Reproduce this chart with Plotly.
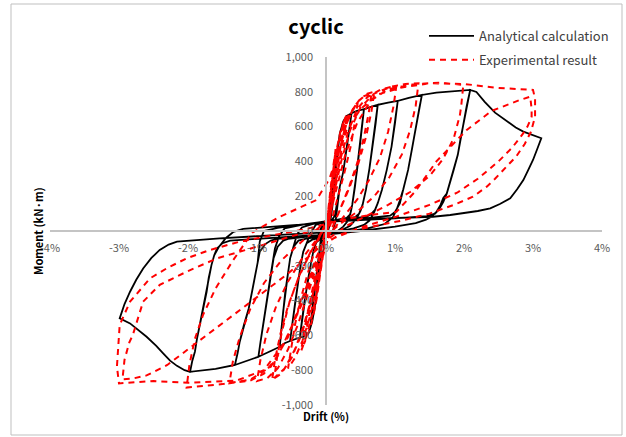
import plotly.graph_objects as go

# ---------------------------------------------------------------
# Hysteresis data: (drift %, moment kN·m) points, one list per cycle
# ---------------------------------------------------------------

# Analytical calculation
ana_cycle_1 = [(0, 0), (0.05, 120), (0.1, 280), (0.15, 430), (0.2, 560),
               (0.16, 420), (0.12, 260), (0.09, 130), (0.06, 70), (0.02, 55),
               (-0.04, 20), (-0.07, -100), (-0.1, -250), (-0.15, -410), (-0.2, -520), (-0.23, -560),
               (-0.19, -420), (-0.15, -280), (-0.11, -160), (-0.08, -80), (-0.05, -50), (0.0, -40)]
ana_cycle_2 = [(0.05, 30), (0.08, 100), (0.11, 230), (0.15, 400), (0.2, 560), (0.25, 630), (0.3, 662), (0.37, 677),
               (0.33, 560), (0.30, 485), (0.25, 340), (0.20, 255), (0.16, 150), (0.13, 90), (0.09, 65), (0.0, 50), (-0.05, 35),
               (-0.09, -90), (-0.11, -160), (-0.15, -280), (-0.19, -420), (-0.23, -560), (-0.25, -585), (-0.33, -608), (-0.38, -612),
               (-0.35, -520), (-0.31, -400), (-0.27, -300), (-0.22, -190), (-0.18, -110), (-0.14, -65), (-0.08, -45), (0.0, -30), (0.08, -10)]
ana_cycle_3 = [(0.1, 0), (0.14, 60), (0.17, 150), (0.20, 255), (0.25, 340), (0.30, 485), (0.33, 560), (0.37, 677), (0.45, 690), (0.55, 700),
               (0.52, 600), (0.49, 485), (0.45, 350), (0.42, 255), (0.38, 150), (0.35, 95), (0.30, 75), (0.15, 62), (0.0, 52), (-0.05, 40),
               (-0.1, -10), (-0.14, -65), (-0.18, -110), (-0.22, -190), (-0.27, -300), (-0.31, -400), (-0.35, -520), (-0.38, -612), (-0.45, -622), (-0.52, -632),
               (-0.49, -540), (-0.45, -420), (-0.41, -300), (-0.37, -200), (-0.33, -120), (-0.28, -70), (-0.2, -50), (0.0, -30), (0.15, -5), (0.25, 25)]
ana_cycle_4 = [(0.32, 60), (0.36, 110), (0.38, 150), (0.42, 255), (0.45, 350), (0.49, 485), (0.52, 600), (0.55, 700), (0.65, 713), (0.75, 725),
               (0.72, 620), (0.68, 500), (0.63, 360), (0.58, 240), (0.53, 150), (0.48, 100), (0.42, 80), (0.2, 65), (0.0, 52), (-0.15, 35),
               (-0.22, -10), (-0.28, -70), (-0.33, -120), (-0.37, -200), (-0.41, -300), (-0.45, -420), (-0.49, -540), (-0.52, -632), (-0.6, -645), (-0.67, -665),
               (-0.65, -580), (-0.62, -460), (-0.59, -349), (-0.55, -240), (-0.52, -157), (-0.47, -90), (-0.40, -55), (-0.3, -45), (0.0, -25), (0.2, 0), (0.35, 30)]
ana_cycle_5 = [(0.44, 70), (0.50, 115), (0.53, 150), (0.58, 240), (0.63, 360), (0.68, 500), (0.72, 620), (0.75, 725), (0.9, 738), (1.04, 748),
               (1.0, 620), (0.95, 485), (0.88, 350), (0.81, 236), (0.75, 160), (0.71, 121), (0.65, 95), (0.59, 82), (0.3, 68), (0.0, 55), (-0.2, 40), (-0.35, 20),
               (-0.42, -20), (-0.47, -90), (-0.52, -157), (-0.55, -240), (-0.59, -349), (-0.62, -460), (-0.65, -580), (-0.67, -665), (-0.8, -690), (-0.98, -723),
               (-0.95, -640), (-0.91, -540), (-0.87, -440), (-0.84, -349), (-0.8, -250), (-0.76, -157), (-0.7, -90), (-0.62, -55), (-0.55, -45),
               (-0.2, -30), (0.1, -10), (0.4, 15), (0.55, 35)]
ana_cycle_6 = [(0.63, 60), (0.7, 110), (0.75, 160), (0.81, 236), (0.88, 350), (0.95, 485), (1.0, 620), (1.04, 748), (1.2, 765), (1.39, 782),
               (1.35, 700), (1.31, 619), (1.25, 480), (1.19, 351), (1.12, 240), (1.07, 159), (1.0, 110), (0.93, 88), (0.5, 70), (0.0, 55), (-0.3, 40), (-0.6, 15),
               (-0.68, -30), (-0.74, -100), (-0.8, -250), (-0.84, -349), (-0.87, -440), (-0.91, -540), (-0.95, -640), (-0.98, -723), (-1.15, -748), (-1.32, -770),
               (-1.28, -700), (-1.25, -636), (-1.19, -540), (-1.12, -445), (-1.07, -345), (-1.03, -253), (-0.99, -180), (-0.96, -119), (-0.88, -75), (-0.8, -55), (-0.71, -45),
               (-0.3, -32), (0.2, -10), (0.6, 15), (0.85, 40)]
ana_cycle_7 = [(0.97, 80), (1.03, 130), (1.07, 175), (1.12, 240), (1.19, 351), (1.25, 480), (1.31, 619), (1.35, 700), (1.39, 782), (1.6, 795), (1.85, 805), (2.09, 811),
               (2.04, 720), (2.0, 630), (1.95, 530), (1.91, 438), (1.85, 350), (1.80, 282), (1.75, 215), (1.70, 167), (1.64, 125), (1.58, 100), (1.46, 85),
               (1.0, 72), (0.5, 62), (0.0, 52), (-0.4, 35), (-0.7, 18), (-0.9, 0),
               (-0.96, -60), (-0.99, -180), (-1.03, -253), (-1.07, -345), (-1.12, -445), (-1.19, -540), (-1.25, -636), (-1.28, -700), (-1.32, -770), (-1.6, -792), (-1.97, -809),
               (-1.94, -750), (-1.90, -694), (-1.87, -620), (-1.83, -540), (-1.78, -440), (-1.73, -349), (-1.70, -270), (-1.66, -196), (-1.62, -140), (-1.58, -100), (-1.50, -70), (-1.39, -55),
               (-1.0, -45), (-0.5, -32), (0.0, -20), (0.5, 0), (1.0, 25), (1.3, 45), (1.45, 65)]
ana_cycle_8 = [(1.52, 80), (1.6, 110), (1.66, 150), (1.70, 190), (1.75, 215), (1.80, 282), (1.85, 350), (1.91, 438), (1.95, 530), (2.0, 630), (2.04, 720), (2.09, 811),
               (2.18, 799), (2.30, 742), (2.45, 680), (2.62, 629), (2.75, 595), (2.86, 571), (3.0, 550), (3.12, 533),
               (3.06, 470), (3.0, 408), (2.93, 350), (2.86, 293), (2.77, 240), (2.67, 188), (2.52, 155), (2.38, 130), (2.2, 115), (2.04, 105), (1.8, 92), (1.55, 82),
               (1.0, 75), (0.5, 68), (0.11, 63), (-0.28, 40), (-0.8, 25), (-1.2, 12), (-1.34, -5),
               (-1.45, -40), (-1.55, -90), (-1.62, -140), (-1.66, -196), (-1.70, -270), (-1.73, -349), (-1.78, -440), (-1.83, -540), (-1.87, -620), (-1.90, -694), (-1.94, -750), (-1.97, -809),
               (-2.05, -800), (-2.16, -775), (-2.26, -745), (-2.36, -703), (-2.46, -660), (-2.6, -608), (-2.75, -560), (-2.84, -531), (-2.99, -502),
               (-2.92, -420), (-2.84, -349), (-2.75, -280), (-2.65, -215), (-2.53, -155), (-2.41, -109), (-2.28, -78), (-2.16, -61), (-1.9, -52), (-1.54, -42),
               (-1.0, -30), (-0.23, -13), (0.0, -8)]

# Experimental result
exp_cycle_1 = [(0, 0), (0.04, 150), (0.09, 330), (0.14, 470), (0.11, 380), (0.07, 230), (0.02, 60), (-0.03, -80), (-0.08, -240),
               (-0.13, -380), (-0.18, -480), (-0.15, -390), (-0.1, -250), (-0.05, -110), (0.0, 10)]
exp_cycle_2 = [(0.05, 170), (0.1, 330), (0.16, 480), (0.22, 590), (0.27, 640), (0.24, 560), (0.19, 420), (0.12, 240), (0.05, 60),
               (-0.02, -80), (-0.08, -250), (-0.15, -420), (-0.23, -560), (-0.32, -650), (-0.28, -560), (-0.22, -430), (-0.14, -250),
               (-0.06, -80), (0.02, 60)]
exp_cycle_3 = [(0.06, 200), (0.12, 370), (0.18, 510), (0.25, 620), (0.3, 670), (0.27, 570), (0.2, 410), (0.12, 220), (0.04, 40),
               (-0.04, -120), (-0.11, -300), (-0.19, -470), (-0.28, -600), (-0.36, -690), (-0.32, -580), (-0.25, -440), (-0.16, -260),
               (-0.07, -90), (0.02, 50)]
exp_cycle_4 = [(0.07, 210), (0.14, 390), (0.22, 540), (0.32, 660), (0.46, 740), (0.42, 630), (0.36, 490), (0.27, 340), (0.16, 180),
               (0.06, 30), (-0.04, -120), (-0.13, -310), (-0.23, -490), (-0.34, -630), (-0.45, -730), (-0.55, -790), (-0.51, -680),
               (-0.45, -540), (-0.36, -380), (-0.24, -210), (-0.1, -40), (0.03, 80)]
exp_cycle_5 = [(0.1, 260), (0.18, 440), (0.28, 600), (0.4, 710), (0.52, 770), (0.66, 792), (0.62, 680), (0.55, 540), (0.46, 400),
               (0.34, 260), (0.2, 120), (0.06, -10), (-0.08, -170), (-0.2, -370), (-0.32, -540), (-0.45, -680), (-0.6, -790),
               (-0.75, -845), (-0.71, -730), (-0.64, -580), (-0.53, -410), (-0.38, -250), (-0.2, -100), (0.0, 30)]
exp_cycle_6 = [(0.08, 230), (0.18, 450), (0.3, 620), (0.45, 740), (0.6, 790), (0.7, 800), (0.66, 690), (0.58, 540), (0.47, 390),
               (0.33, 240), (0.18, 100), (0.04, -30), (-0.1, -220), (-0.22, -410), (-0.35, -590), (-0.5, -730), (-0.65, -820),
               (-0.78, -855), (-0.74, -740), (-0.66, -590), (-0.55, -430), (-0.4, -270), (-0.22, -120), (-0.02, 20)]
exp_cycle_7 = [(0.1, 210), (0.2, 400), (0.32, 570), (0.45, 700), (0.6, 770), (0.8, 815), (1.02, 835), (0.98, 720), (0.9, 570),
               (0.78, 420), (0.62, 290), (0.45, 180), (0.25, 80), (0.05, -20), (-0.1, -160), (-0.25, -350), (-0.4, -530),
               (-0.55, -680), (-0.7, -790), (-0.85, -845), (-1.0, -862), (-0.95, -740), (-0.86, -590), (-0.72, -430), (-0.55, -290),
               (-0.35, -160), (-0.12, -40), (0.05, 60)]
exp_cycle_8 = [(0.12, 220), (0.22, 400), (0.35, 580), (0.5, 710), (0.7, 790), (0.95, 830), (1.15, 845), (1.34, 849), (1.3, 720),
               (1.22, 580), (1.1, 440), (0.92, 310), (0.7, 200), (0.45, 110), (0.2, 40), (0.0, -30), (-0.15, -160), (-0.3, -340),
               (-0.5, -550), (-0.7, -720), (-0.9, -820), (-1.1, -860), (-1.4, -875), (-1.35, -750), (-1.25, -610), (-1.1, -450),
               (-0.9, -300), (-0.65, -170), (-0.35, -60), (-0.1, 20), (0.05, 80)]
exp_cycle_9 = [(0.15, 240), (0.28, 440), (0.45, 620), (0.65, 750), (0.9, 815), (1.3, 845), (1.65, 852), (1.99, 840), (1.96, 720),
               (1.94, 665), (1.85, 531), (1.70, 416), (1.51, 320), (1.22, 224), (0.9, 150), (0.6, 90), (0.3, 30), (0.05, -40),
               (-0.15, -180), (-0.35, -400), (-0.55, -610), (-0.8, -780), (-1.1, -855), (-1.5, -880), (-2.02, -900), (-1.98, -770),
               (-1.9, -620), (-1.78, -480), (-1.6, -330), (-1.35, -170), (-1.07, -10), (-0.67, 82), (-0.14, 178), (0.05, 300)]
exp_cycle_10 = [(0.15, 420), (0.3, 580), (0.5, 700), (0.75, 785), (1.1, 825), (1.5, 849), (2.0, 845), (2.5, 822), (3.0, 811),
                (3.03, 760), (3.03, 657), (2.97, 570), (2.88, 500), (2.76, 430), (2.62, 370), (2.45, 300), (2.33, 255), (2.13, 197),
                (1.85, 150), (1.5, 100), (1.1, 60), (0.6, 20), (0.2, -20), (0.0, -70), (-0.15, -200), (-0.35, -420), (-0.6, -640),
                (-0.9, -800), (-1.3, -860), (-2.0, -872), (-2.5, -862), (-3.0, -876), (-3.03, -780), (-3.01, -636), (-2.99, -540),
                (-2.84, -406), (-2.55, -272), (-2.31, -215), (-2.02, -157), (-1.68, -109), (-1.25, -61), (-0.76, -23), (-0.3, 10), (0.0, 40)]
exp_cycle_11 = [(0.3, 70), (0.7, 95), (1.02, 110), (1.3, 230), (1.6, 400), (2.04, 581), (2.4, 690), (2.81, 753), (2.96, 772),
                (2.98, 700), (2.98, 657), (2.92, 600), (2.86, 562), (2.7, 480), (2.5, 400), (2.2, 300), (1.9, 220), (1.5, 150),
                (1.0, 80), (0.5, 20), (0.0, -60), (-0.2, -130), (-0.6, -260), (-1.0, -380), (-1.6, -560), (-2.0, -680),
                (-2.3, -770), (-2.6, -830), (-2.8, -848), (-2.95, -852), (-2.92, -740), (-2.85, -640), (-2.8, -598), (-2.65, -406),
                (-2.41, -310), (-2.02, -234), (-1.58, -157), (-1.0, -90), (-0.5, -30), (0.0, 20)]

analytical_cycles = [ana_cycle_1, ana_cycle_2, ana_cycle_3, ana_cycle_4,
                     ana_cycle_5, ana_cycle_6, ana_cycle_7, ana_cycle_8]
experimental_cycles = [exp_cycle_1, exp_cycle_2, exp_cycle_3, exp_cycle_4, exp_cycle_5, exp_cycle_6,
                       exp_cycle_7, exp_cycle_8, exp_cycle_9, exp_cycle_10, exp_cycle_11]

x_tick_values = [-4, -3, -2, -1, 0, 1, 2, 3, 4]
x_tick_labels = ["-4%", "-3%", "-2%", "-1%", "0%", "1%", "2%", "3%", "4%"]
y_tick_values = [-1000, -800, -600, -400, -200, 0, 200, 400, 600, 800, 1000]
y_tick_labels = ["-1,000", "-800", "-600", "-400", "-200", "0", "200", "400", "600", "800", "1,000"]


def unpack(cycles):
    xs, ys = [], []
    for cyc in cycles:
        for d, m in cyc:
            xs.append(d)
            ys.append(m)
    return xs, ys


ana_x, ana_y = unpack(analytical_cycles)
exp_x, exp_y = unpack(experimental_cycles)

FONT = "Noto Sans CJK KR"
GRAY_TEXT = "#595959"
AXIS_GRAY = "#c4c4c4"

fig = go.Figure()
fig.add_trace(go.Scatter(
    x=ana_x, y=ana_y, mode="lines", name="Analytical calculation",
    line=dict(color="black", width=1.8), legendgroup="a",
))
fig.add_trace(go.Scatter(
    x=exp_x, y=exp_y, mode="lines", name="Experimental result",
    line=dict(color="#ff0000", width=2, dash="6px,5px"), legendgroup="b",
))

# Plot area in pixels: x 50..602, y 57..405
PL, PR, PT, PB = 50, 602, 57, 405
W, H = 626, 437


def px_x(px):
    return (px - PL) / (PR - PL)


def px_y(py):
    return (PB - py) / (PB - PT)


fig.update_layout(
    width=W, height=H,
    margin=dict(l=PL, r=W - PR, t=PT, b=H - PB),
    paper_bgcolor="white", plot_bgcolor="white",
    font=dict(family=FONT, size=11, color=GRAY_TEXT),
    title=dict(text="cyclic", x=316 / W, xanchor="center", y=1 - 27 / H, yanchor="middle",
               font=dict(family=FONT, size=20, color="black", weight="bold")),
    showlegend=True,
    legend=dict(x=px_x(424), y=px_y(21), xanchor="left", yanchor="top",
                font=dict(family=FONT, size=13, color="#404040"),
                bgcolor="rgba(0,0,0,0)", traceorder="grouped", tracegroupgap=4,
                itemwidth=45),
    xaxis=dict(range=[-4, 4], tickvals=x_tick_values, ticktext=x_tick_labels,
               showgrid=False, zeroline=False, showline=True, linecolor=AXIS_GRAY, linewidth=1.5,
               anchor="free", position=0.5, ticks="", ticklabelstandoff=7,
               tickfont=dict(family=FONT, size=11, color=GRAY_TEXT)),
    yaxis=dict(range=[-1000, 1000], tickvals=y_tick_values, ticktext=y_tick_labels,
               showgrid=False, zeroline=False, showline=True, linecolor=AXIS_GRAY, linewidth=1.5,
               anchor="free", position=0.5, ticks="", ticklabelstandoff=10,
               tickfont=dict(family=FONT, size=11, color=GRAY_TEXT)),
    annotations=[
        dict(text="Moment (kN·m)", x=px_x(38), y=0.5, xref="paper", yref="paper",
             textangle=-90, showarrow=False, xanchor="center", yanchor="middle",
             font=dict(family=FONT, size=11, color="black", weight="bold")),
        dict(text="Drift (%)", x=0.5, y=px_y(416), xref="paper", yref="paper",
             showarrow=False, xanchor="center", yanchor="middle",
             font=dict(family=FONT, size=11, color="black", weight="bold")),
    ],
    shapes=[
        dict(type="rect", xref="paper", yref="paper",
             x0=px_x(11), x1=px_x(622), y0=px_y(435), y1=px_y(4),
             line=dict(color="#bfbfbf", width=1), fillcolor="rgba(0,0,0,0)", layer="below"),
    ],
)

fig.write_html("out.html")
